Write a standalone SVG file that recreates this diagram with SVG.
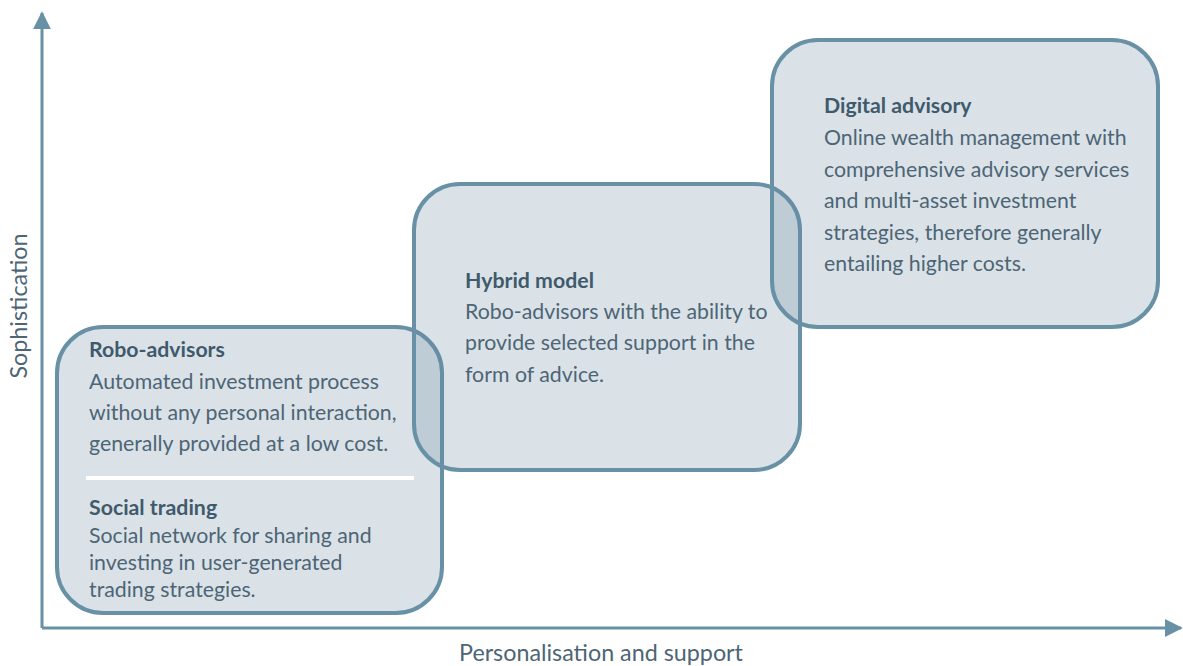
<svg xmlns="http://www.w3.org/2000/svg" width="1183" height="666" viewBox="0 0 1183 666">
  <style>
    .box { fill: #65869f; fill-opacity: 0.24; stroke: #6891a6; stroke-width: 4; }
    .axis { stroke: #6891a6; stroke-width: 3; fill: none; }
    .head { font-family: Lato, "Liberation Sans", sans-serif; font-weight: bold; font-size: 21.3px; fill: #3f5a6b; }
    .body { font-family: Lato, "Liberation Sans", sans-serif; font-size: 21.3px; fill: #4d6575; }
    .label { font-family: Lato, "Liberation Sans", sans-serif; font-size: 23.3px; fill: #4d6575; }
  </style>
  <defs>
    <marker id="arrow" viewBox="0 0 10 10" refX="9" refY="5" markerWidth="6" markerHeight="6" orient="auto" markerUnits="strokeWidth">
      <path d="M0,0 L10,5 L0,10 Z" fill="#6891a6"/>
    </marker>
  </defs>
  <rect width="1183" height="666" fill="#ffffff"/>

  <!-- axes -->
  <g id="axes">
    <path class="axis" d="M42,628 L42,13" marker-end="url(#arrow)"/>
    <path class="axis" d="M42,628 L1181,628" marker-end="url(#arrow)"/>
    <text class="label" transform="translate(27,306) rotate(-90)" text-anchor="middle">Sophistication</text>
    <text class="label" x="601" y="661" text-anchor="middle">Personalisation and support</text>
  </g>

  <!-- Robo-advisors / Social trading -->
  <g id="node-robo">
    <rect class="box" x="57" y="327" width="385" height="286" rx="46" ry="46"/>
    <line x1="86" y1="478" x2="414" y2="478" stroke="#ffffff" stroke-width="4"/>
    <text class="head" x="89" y="357">Robo-advisors</text>
    <text class="body" x="89" y="389">Automated investment process</text>
    <text class="body" x="89" y="420">without any personal interaction,</text>
    <text class="body" x="89" y="451">generally provided at a low cost.</text>
    <text class="head" x="89" y="515">Social trading</text>
    <text class="body" x="89" y="543">Social network for sharing and</text>
    <text class="body" x="89" y="570">investing in user-generated</text>
    <text class="body" x="89" y="597">trading strategies.</text>
  </g>

  <!-- Hybrid model -->
  <g id="node-hybrid">
    <rect class="box" x="414" y="184" width="386" height="286" rx="46" ry="46"/>
    <text class="head" x="465" y="288">Hybrid model</text>
    <text class="body" x="465" y="319">Robo-advisors with the ability to</text>
    <text class="body" x="465" y="350">provide selected support in the</text>
    <text class="body" x="465" y="382">form of advice.</text>
  </g>

  <!-- Digital advisory -->
  <g id="node-digital">
    <rect class="box" x="772" y="40" width="386" height="287" rx="46" ry="46"/>
    <text class="head" x="824" y="113">Digital advisory</text>
    <text class="body" x="824" y="145">Online wealth management with</text>
    <text class="body" x="824" y="177">comprehensive advisory services</text>
    <text class="body" x="824" y="208">and multi-asset investment</text>
    <text class="body" x="824" y="240">strategies, therefore generally</text>
    <text class="body" x="824" y="271">entailing  higher costs.</text>
  </g>
</svg>
